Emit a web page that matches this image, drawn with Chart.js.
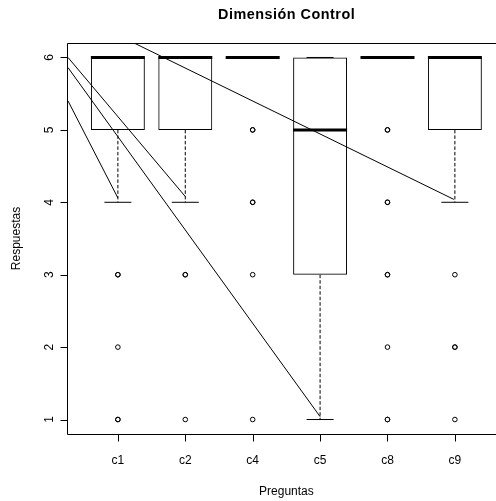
<!DOCTYPE html>
<html>
<head>
<meta charset="utf-8">
<script src="https://cdn.jsdelivr.net/npm/chart.js@4/dist/chart.umd.min.js"></script>
<style>
  html, body { margin: 0; padding: 0; background: #fff; overflow: hidden; }
  canvas { display: block; }
</style>
</head>
<body>
<canvas id="chart" width="496" height="501"></canvas>
<script>
// Five-number summaries per question (scale 1..6)
const categories  = ['c1', 'c2', 'c4', 'c5', 'c8', 'c9'];
const q1          = [5, 5, 6, 3, 6, 5];
const q3          = [6, 6, 6, 6, 6, 6];
const medians     = [6, 6, 6, 5, 6, 6];
const whiskerLow  = [4, 4, 6, 1, 6, 4];
const whiskerHigh = [6, 6, 6, 6, 6, 6];
// Outlying answers; repeated values are repeated responses
const outliers = [
  [3, 3, 2, 1, 1],
  [3, 3, 1],
  [5, 5, 4, 4, 3, 1],
  [],
  [5, 5, 4, 4, 3, 3, 2, 1, 1],
  [3, 2, 2, 1]
];
const yTicks = [1, 2, 3, 4, 5, 6];
// Straight segments ending at the lower whiskers: [start, end] as [x, y]
const segments = [
  [[0.26, 6.00], [2.00, 4.08]],
  [[0.26, 5.86], [4.00, 1.04]],
  [[0.26, 5.40], [1.00, 4.06]],
  [[1.24, 6.20], [5.985, 4.04]]
];

const FONT = "'Liberation Sans', Arial, Helvetica, sans-serif";
const pos = i => i + 1;

// Dashed whiskers, split with gaps
const whiskerData = [];
categories.forEach((c, i) => {
  whiskerData.push({x: pos(i), y: q1[i]}, {x: pos(i), y: whiskerLow[i]}, {x: pos(i), y: null});
  whiskerData.push({x: pos(i), y: q3[i]}, {x: pos(i), y: whiskerHigh[i]}, {x: pos(i), y: null});
});

const segmentData = [];
segments.forEach(s => {
  segmentData.push({x: s[0][0], y: s[0][1]}, {x: s[1][0], y: s[1][1]}, {x: s[1][0], y: null});
});

const capData = [];
categories.forEach((c, i) => {
  capData.push({x: pos(i), y: whiskerLow[i]}, {x: pos(i), y: whiskerHigh[i]});
});

const outlierData = [];
outliers.forEach((vals, i) => vals.forEach(v => outlierData.push({x: pos(i), y: v})));

// Frame, ticks and text in base-graphics style
const decor = {
  id: 'decor',
  afterDraw(chart) {
    const {ctx, chartArea: a, scales: {x, y}} = chart;
    ctx.save();
    ctx.strokeStyle = '#000';
    ctx.lineWidth = 1;
    ctx.beginPath();
    ctx.moveTo(a.right, a.top + 0.5);
    ctx.lineTo(a.left - 0.5, a.top + 0.5);
    ctx.lineTo(a.left - 0.5, a.bottom + 0.5);
    ctx.lineTo(a.right, a.bottom + 0.5);
    ctx.stroke();

    // y axis ticks and rotated labels
    ctx.fillStyle = '#000';
    ctx.font = '12px ' + FONT;
    yTicks.forEach(v => {
      const py = Math.round(y.getPixelForValue(v)) + 0.5;
      ctx.beginPath();
      ctx.moveTo(a.left - 7.5, py);
      ctx.lineTo(a.left - 0.5, py);
      ctx.stroke();
      ctx.save();
      ctx.translate(52.5, y.getPixelForValue(v));
      ctx.rotate(-Math.PI / 2);
      ctx.textAlign = 'center';
      ctx.textBaseline = 'alphabetic';
      ctx.fillText(String(v), 0, 0);
      ctx.restore();
    });

    // x axis ticks and labels
    categories.forEach((c, i) => {
      const px = Math.round(x.getPixelForValue(pos(i))) + 0.5;
      ctx.beginPath();
      ctx.moveTo(px, a.bottom + 0.5);
      ctx.lineTo(px, a.bottom + 7.5);
      ctx.stroke();
      ctx.textAlign = 'center';
      ctx.textBaseline = 'alphabetic';
      ctx.fillText(c, x.getPixelForValue(pos(i)), 464);
    });

    const cx = x.getPixelForValue((1 + categories.length) / 2);
    ctx.fillText('Preguntas', cx, 494.5);

    ctx.save();
    ctx.translate(20.3, (a.top + a.bottom) / 2);
    ctx.rotate(-Math.PI / 2);
    ctx.fillText('Respuestas', 0, 0);
    ctx.restore();

    ctx.font = 'bold 14.4px ' + FONT;
    ctx.letterSpacing = '0.5px';
    ctx.fillText('Dimensión Control', cx + 0.25, 18.8);
    ctx.restore();
  }
};

new Chart(document.getElementById('chart'), {
  type: 'bar',
  data: {
    datasets: [
      {
        type: 'scatter',
        data: medians.map((m, i) => ({x: pos(i), y: m})),
        pointStyle: 'line',
        pointRadius: 27,
        pointBorderWidth: 3,
        pointBorderColor: '#000',
        pointBackgroundColor: '#000'
      },
      {
        type: 'scatter',
        data: capData,
        pointStyle: 'line',
        pointRadius: 13.5,
        pointBorderWidth: 1,
        pointBorderColor: '#000'
      },
      {
        type: 'scatter',
        data: outlierData,
        pointStyle: 'circle',
        pointRadius: 2.3,
        pointBorderWidth: 1,
        pointBorderColor: '#000',
        pointBackgroundColor: 'rgba(0,0,0,0)'
      },
      {
        type: 'line',
        data: segmentData,
        borderColor: '#000',
        borderWidth: 1,
        pointRadius: 0,
        spanGaps: false,
        fill: false
      },
      {
        type: 'line',
        data: whiskerData,
        borderColor: '#000',
        borderWidth: 1,
        borderDash: [3.5, 2],
        pointRadius: 0,
        spanGaps: false,
        fill: false
      },
      {
        type: 'bar',
        data: categories.map((c, i) => ({x: pos(i), y: [q1[i], q3[i]]})),
        backgroundColor: 'rgba(0,0,0,0)',
        borderColor: '#000',
        borderWidth: 1,
        borderSkipped: false,
        categoryPercentage: 1,
        barPercentage: 0.8
      }
    ]
  },
  options: {
    responsive: false,
    animation: false,
    events: [],
    devicePixelRatio: 1,
    layout: { autoPadding: false, padding: { left: 68, top: 43, right: 0, bottom: 67 } },
    plugins: { legend: { display: false }, tooltip: { enabled: false }, title: { display: false } },
    scales: {
      x: {
        type: 'linear', display: false, min: 0.26, max: 6.61, offset: false,
        afterBuildTicks: s => { s.ticks = categories.map((c, i) => ({value: pos(i)})); }
      },
      y: { type: 'linear', display: false, min: 0.8, max: 6.2 }
    }
  },
  plugins: [decor]
});
</script>
</body>
</html>
